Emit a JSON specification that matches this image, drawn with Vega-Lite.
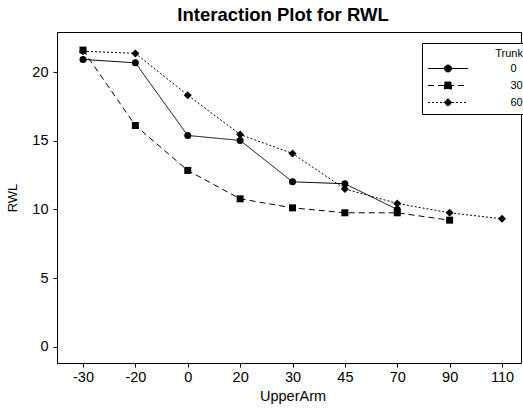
{
  "$schema": "https://vega.github.io/schema/vega-lite/v6.json",
  "width": 464,
  "height": 331,
  "autosize": {"type": "none"},
  "padding": {"left": 57, "top": 32, "right": 2, "bottom": 47},
  "title": {"text": "Interaction Plot for RWL", "fontSize": 18.5, "fontWeight": "bold", "font": "Liberation Sans", "anchor": "middle", "frame": "group", "dx": -6, "dy": 18, "baseline": "bottom", "offset": 7, "color": "black"},
  "data": {"values": [
    {"Trunk": "0", "UpperArm": -30, "RWL": 20.95},
    {"Trunk": "0", "UpperArm": -20, "RWL": 20.7},
    {"Trunk": "0", "UpperArm": 0, "RWL": 15.4},
    {"Trunk": "0", "UpperArm": 20, "RWL": 15.04},
    {"Trunk": "0", "UpperArm": 30, "RWL": 12.02},
    {"Trunk": "0", "UpperArm": 45, "RWL": 11.88},
    {"Trunk": "0", "UpperArm": 70, "RWL": 10.0},
    {"Trunk": "30", "UpperArm": -30, "RWL": 21.63},
    {"Trunk": "30", "UpperArm": -20, "RWL": 16.13},
    {"Trunk": "30", "UpperArm": 0, "RWL": 12.85},
    {"Trunk": "30", "UpperArm": 20, "RWL": 10.78},
    {"Trunk": "30", "UpperArm": 30, "RWL": 10.12},
    {"Trunk": "30", "UpperArm": 45, "RWL": 9.76},
    {"Trunk": "30", "UpperArm": 70, "RWL": 9.76},
    {"Trunk": "30", "UpperArm": 90, "RWL": 9.22},
    {"Trunk": "60", "UpperArm": -30, "RWL": 21.55},
    {"Trunk": "60", "UpperArm": -20, "RWL": 21.39},
    {"Trunk": "60", "UpperArm": 0, "RWL": 18.34},
    {"Trunk": "60", "UpperArm": 20, "RWL": 15.47},
    {"Trunk": "60", "UpperArm": 30, "RWL": 14.09},
    {"Trunk": "60", "UpperArm": 45, "RWL": 11.5},
    {"Trunk": "60", "UpperArm": 70, "RWL": 10.44},
    {"Trunk": "60", "UpperArm": 90, "RWL": 9.76},
    {"Trunk": "60", "UpperArm": 110, "RWL": 9.32}
  ]},
  "encoding": {
    "x": {"field": "UpperArm", "type": "ordinal", "scale": {"type": "point", "range": [26, 445], "padding": 0},
      "axis": {"title": "UpperArm", "labelAngle": 0, "tickSize": 4, "labelPadding": 3, "titlePadding": 6, "labelFontSize": 14.5, "titleFontSize": 14.5, "titleFontWeight": "normal", "grid": false}},
    "y": {"field": "RWL", "type": "quantitative", "scale": {"domain": [-1.2, 22.95], "nice": false, "zero": false},
      "axis": {"title": "RWL", "values": [0, 5, 10, 15, 20], "tickSize": 4, "labelPadding": 5, "titlePadding": 12, "labelFontSize": 14.5, "titleFontSize": 13, "titleFontWeight": "normal", "grid": false}}
  },
  "layer": [
    {"mark": {"type": "line", "color": "black", "strokeWidth": 1},
     "encoding": {"strokeDash": {"field": "Trunk", "type": "nominal", "scale": {"domain": ["0", "30", "60"], "range": [[1, 0], [6, 4], [2, 2]]},
       "legend": {"title": "Trunk\u00a0\u00a0", "orient": "none", "legendX": 365, "legendY": 11, "padding": 5, "strokeColor": "black", "fillColor": "white", "symbolSize": 64, "symbolOffset": 15.5, "labelOffset": 57, "labelAlign": "left", "labelFontSize": 11, "titleFontSize": 11, "titleFontWeight": "normal", "titleAnchor": "end", "titleAlign": "right", "rowPadding": 5, "titlePadding": 4, "symbolStrokeWidth": 1, "symbolFillColor": "black", "symbolStrokeColor": "black", "labelExpr": "(length(datum.label) < 2 ? '\u2007' : '') + datum.label + '\u00a0\u00a0'", "labelColor": "black", "titleColor": "black",
         "encode": {"symbols": {"update": {"stroke": {"value": "black"}, "strokeWidth": {"value": 1}, "fill": {"value": "black"}}}}}}}},
    {"transform": [{"filter": "datum.Trunk == '0'"}], "mark": {"type": "point", "shape": "circle", "filled": true, "size": 49, "color": "black", "opacity": 1}},
    {"transform": [{"filter": "datum.Trunk == '30'"}], "mark": {"type": "point", "shape": "square", "filled": true, "size": 49, "color": "black", "opacity": 1}},
    {"transform": [{"filter": "datum.Trunk == '60'"}], "mark": {"type": "point", "shape": "diamond", "filled": true, "size": 64, "color": "black", "opacity": 1}},
    {"transform": [{"filter": "false"}], "mark": {"type": "point", "filled": true, "color": "black", "opacity": 1},
     "encoding": {"shape": {"field": "Trunk", "type": "nominal", "scale": {"domain": ["0", "30", "60"], "range": [
        "M-5,0H5M-0.875,0A0.875,0.875,0,1,1,0.875,0A0.875,0.875,0,1,1,-0.875,0Z",
        "M-5,0H5M-0.875,-0.875H0.875V0.875H-0.875Z",
        "M-5,0H5M0,-1L1,0L0,1L-1,0Z"]},
       "legend": {"title": "Trunk\u00a0\u00a0", "orient": "none", "legendX": 365, "legendY": 11, "padding": 5, "strokeColor": "black", "fillColor": "white", "symbolSize": 64, "symbolOffset": 15.5, "labelOffset": 57, "labelAlign": "left", "labelFontSize": 11, "titleFontSize": 11, "titleFontWeight": "normal", "titleAnchor": "end", "titleAlign": "right", "rowPadding": 5, "titlePadding": 4, "symbolStrokeWidth": 1, "symbolFillColor": "black", "symbolStrokeColor": "black", "labelExpr": "(length(datum.label) < 2 ? '\u2007' : '') + datum.label + '\u00a0\u00a0'", "labelColor": "black", "titleColor": "black",
         "encode": {"symbols": {"update": {"stroke": {"value": "black"}, "strokeWidth": {"value": 1}, "fill": {"value": "black"}}}}}}}}
  ],
  "config": {
    "font": "Liberation Sans",
    "view": {"stroke": "black", "strokeWidth": 1},
    "axis": {"domainColor": "black", "tickColor": "black", "labelColor": "black", "titleColor": "black", "labelFont": "Liberation Sans", "titleFont": "Liberation Sans"},
    "legend": {"labelFont": "Liberation Sans", "titleFont": "Liberation Sans"}
  }
}
